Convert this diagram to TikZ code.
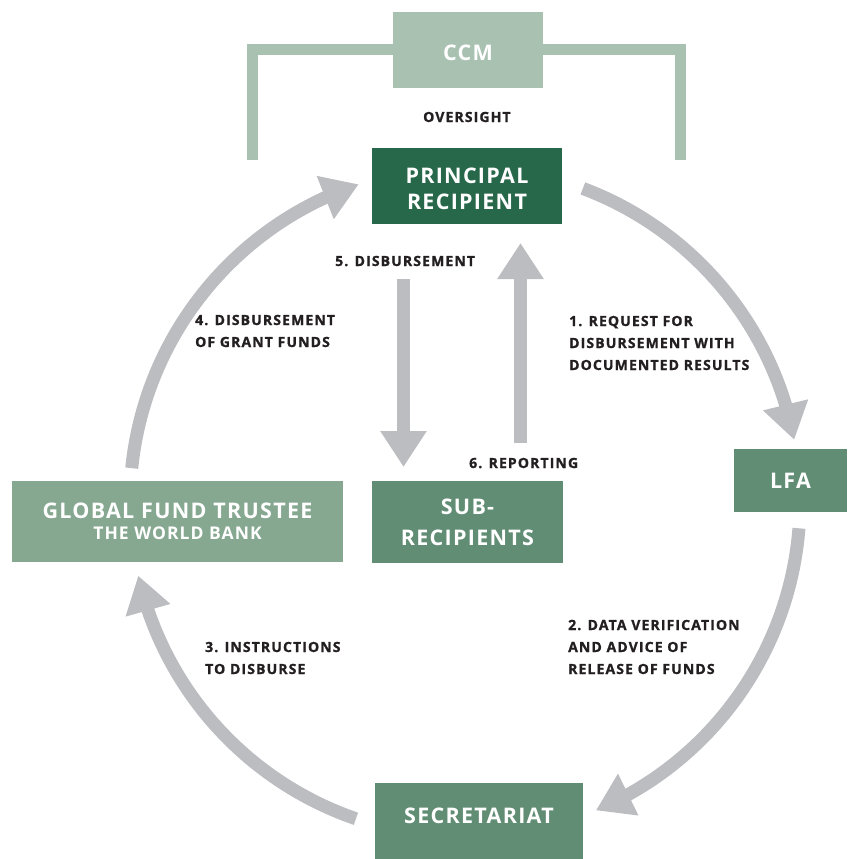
\documentclass[tikz,border=0pt]{standalone}
\usepackage{fontspec}
\setmainfont{Open Sans}
\newfontfamily\boxfnt[LetterSpace=6]{Open Sans}
\newfontfamily\lblfnt[LetterSpace=8,FakeBold=1.2]{Open Sans}
\usetikzlibrary{arrows.meta,bending}
\definecolor{ccmcol}{HTML}{A8C1B1}
\definecolor{prcol}{HTML}{28684A}
\definecolor{midcol}{HTML}{628D75}
\definecolor{gftcol}{HTML}{86A891}
\definecolor{arrcol}{HTML}{BCBDC1}
\definecolor{txtcol}{HTML}{231F20}
\begin{document}
\begin{tikzpicture}[x=1pt,y=1pt,
  box/.style={rectangle, inner sep=0pt, text=white, align=center,
    font=\boxfnt\bfseries\fontsize{21.5}{26}\selectfont},
  lbl/.style={inner sep=0pt, anchor=base west, align=left, text=txtcol,
    font=\lblfnt\bfseries\fontsize{14}{22}\selectfont},
  flow/.style={draw=arrcol, line width=13pt, -{Triangle[length=36pt,width=44pt]}},
  bracket/.style={draw=ccmcol, line width=11pt}
]
\useasboundingbox (0,0) rectangle (851,-859);

% boxes
\node[box, fill=ccmcol, minimum width=150pt, minimum height=76pt, text height=21pt] (ccm) at (468,-50) {CCM};
\node[box, fill=prcol, minimum width=190pt, minimum height=76pt, text height=47pt] (pr) at (467,-186) {PRINCIPAL\\RECIPIENT};
\node[box, fill=midcol, minimum width=113pt, minimum height=63pt] (lfa) at (790.5,-480.5) {LFA};
\node[box, fill=midcol, minimum width=191pt, minimum height=82pt,
  font=\boxfnt\bfseries\fontsize{21.5}{31}\selectfont] (sr) at (467.5,-522) {SUB-\\RECIPIENTS};
\node[box, fill=gftcol, minimum width=331pt, minimum height=81pt,
  font=\boxfnt\bfseries\fontsize{21.5}{21}\selectfont] (gft) at (177.5,-521.5)
  {GLOBAL FUND TRUSTEE\\\fontsize{17.5}{21}\selectfont THE WORLD BANK};
\node[box, fill=midcol, minimum width=208pt, text height=16pt, text depth=12pt,
  inner ysep=24pt] (sec) at (479,-821) {SECRETARIAT};

% oversight bracket
\coordinate (bl) at (252.5,-160);
\coordinate (br) at (680.5,-160);
\draw[bracket] (ccm.west) -| (bl);
\draw[bracket] (ccm.east) -| (br);

% circular flows
\coordinate (c) at (465,-502);
\coordinate (a1s) at ([shift={(69.4:335)}]c);
\coordinate (a2s) at ([shift={(-4.5:335)}]c);
\coordinate (a3s) at ([shift={(251:335)}]c);
\coordinate (a4s) at ([shift={(174.2:335)}]c);
\draw[flow] (a1s) arc[start angle=69.4, end angle=10.7, radius=335];
\draw[flow] (a2s) arc[start angle=-4.5, end angle=-67, radius=335];
\draw[flow] (a3s) arc[start angle=251, end angle=192.7, radius=335];
\draw[flow] (a4s) arc[start angle=174.2, end angle=108.5, radius=335];

% vertical flows
\coordinate (d1s) at (403.5,-279);
\coordinate (d1e) at (403.5,-467);
\coordinate (u1s) at (520.5,-443);
\coordinate (u1e) at (520.5,-243);
\draw[flow] (d1s) -- (d1e);
\draw[flow] (u1s) -- (u1e);

% labels (base anchor = baseline of last line)
\node[lbl] (ov) at (423,-122) {OVERSIGHT};
\node[lbl] (l5) at (335,-266) {5. DISBURSEMENT};
\node[lbl] (l4) at (195,-347) {4. DISBURSEMENT\\OF GRANT FUNDS};
\node[lbl] (l1) at (569,-370) {1. REQUEST FOR\\DISBURSEMENT WITH\\DOCUMENTED RESULTS};
\node[lbl] (l6) at (469,-468) {6. REPORTING};
\node[lbl] (l2) at (568,-674) {2. DATA VERIFICATION\\AND ADVICE OF\\RELEASE OF FUNDS};
\node[lbl] (l3) at (205,-674) {3. INSTRUCTIONS\\TO DISBURSE};
\end{tikzpicture}
\end{document}
